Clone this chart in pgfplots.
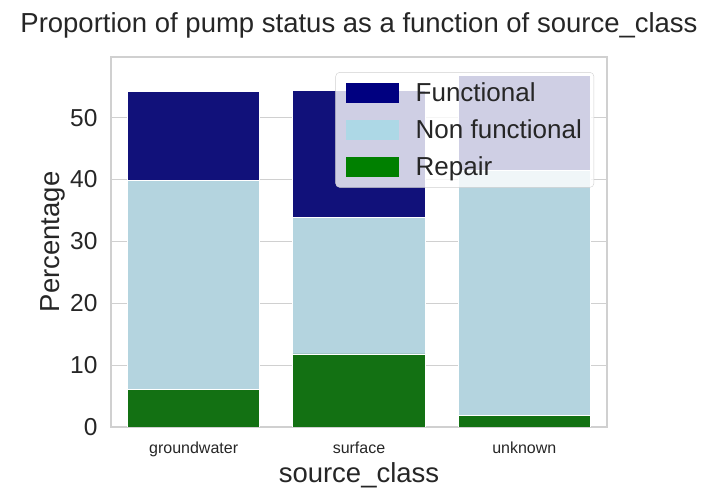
\documentclass[border=0pt]{standalone}
\usepackage{pgfplots}
\pgfplotsset{compat=1.18}
\usepackage{fontspec}
\setmainfont{Liberation Sans}
\definecolor{funcbar}{HTML}{11117A}
\definecolor{nonbar}{HTML}{B4D4DF}
\definecolor{repbar}{HTML}{137113}
\definecolor{funcleg}{HTML}{000080}
\definecolor{nonleg}{HTML}{ADD8E6}
\definecolor{repleg}{HTML}{008000}
\definecolor{txt}{HTML}{262626}
\definecolor{gridc}{HTML}{D0D0D0}
\begin{document}
\begin{tikzpicture}
\useasboundingbox (-111pt,-70pt) rectangle (607pt,427pt);
\begin{axis}[
  scale only axis,
  width=496pt, height=370pt,
  xmin=-0.5, xmax=2.5,
  ymin=0, ymax=59.8,
  xtick={0,1,2},
  xticklabels={groundwater,surface,unknown},
  ytick={0,10,20,30,40,50},
  ymajorgrids,
  grid style={gridc, line width=1pt},
  axis line style={gridc, line width=1.2pt},
  major tick length=0pt,
  tick label style={text=txt},
  x tick label style={font=\fontsize{16}{19}\selectfont, yshift=-11pt},
  y tick label style={font=\fontsize{24.5}{29}\selectfont, xshift=-10pt},
  /pgf/number format/assume math mode=true,
  xlabel={source\_class},
  ylabel={Percentage},
  label style={font=\fontsize{27.5}{32}\selectfont, text=txt},
  xlabel style={yshift=1pt},
  ylabel style={yshift=-2pt},
  title={Proportion of pump status as a function of source\_class},
  title style={font=\fontsize{27.5}{32}\selectfont, text=txt, yshift=9pt},
  ybar, bar width=0.8, bar shift=0pt,
  legend style={at={(0.974,0.959)}, anchor=north east,
    fill=white, fill opacity=0.8, text opacity=1, draw=gridc,
    rounded corners=4pt, font=\fontsize{26}{30}\selectfont, text=txt,
    row sep=13pt, inner xsep=10pt, inner ysep=8pt},
  legend cell align=left,
  legend image code/.code={\fill[#1, sharp corners, draw=none, fill opacity=1] (0pt,-10pt) rectangle (53pt,10pt);},
]
\addlegendimage{fill=funcleg}
\addlegendentry{\hspace{15pt}Functional}
\addlegendimage{fill=nonleg}
\addlegendentry{\hspace{15pt}Non functional}
\addlegendimage{fill=repleg}
\addlegendentry{\hspace{15pt}Repair}
\addplot[fill=funcbar, draw=white, line width=0.8pt, forget plot]
  coordinates {(0,54.2) (1,54.4) (2,56.8)};
\addplot[fill=nonbar, draw=white, line width=0.8pt, forget plot]
  coordinates {(0,39.8) (1,33.8) (2,41.4)};
\addplot[fill=repbar, draw=white, line width=0.8pt, forget plot]
  coordinates {(0,6.0) (1,11.8) (2,1.8)};
\end{axis}
\end{tikzpicture}
\end{document}
